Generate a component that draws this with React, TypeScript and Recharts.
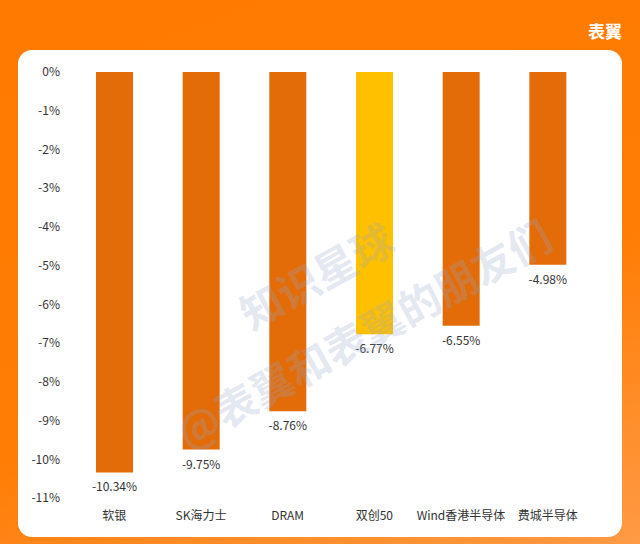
import { BarChart, Bar, XAxis, YAxis, Cell, LabelList } from 'recharts';

const categories = ['软银', 'SK海力士', 'DRAM', '双创50', 'Wind香港半导体', '费城半导体'];
const changes = [-10.34, -9.75, -8.76, -6.77, -6.55, -4.98];
const highlight = ['双创50'];
const yTicks = [0, -1, -2, -3, -4, -5, -6, -7, -8, -9, -10, -11];

const data = categories.map((name, i) => ({ name, value: changes[i] }));

const FONT = '"Noto Sans CJK SC", "Noto Sans", sans-serif';

function BelowLabel(props: any) {
  const { x, y, width, height, value } = props;
  const bottom = Math.max(y, y + height);
  return (
    <text
      x={x + width / 2}
      y={bottom + 19}
      textAnchor="middle"
      fontSize={12}
      fill="#333"
      fontFamily={FONT}
    >
      {`${value.toFixed(2)}%`}
    </text>
  );
}

export default function App() {
  return (
    <div
      style={{
        position: 'absolute',
        left: 0,
        top: 0,
        width: 640,
        height: 544,
        overflow: 'hidden',
        fontFamily: FONT,
        background: 'linear-gradient(160deg, #ff7a00 0%, #ff7d05 60%, #ff9a45 100%)',
      }}
    >
      <div
        style={{
          position: 'absolute',
          right: 18,
          top: 18,
          color: '#fff',
          fontWeight: 700,
          fontSize: 17,
        }}
      >
        表翼
      </div>
      <div
        style={{
          position: 'absolute',
          left: 18,
          top: 50,
          width: 604,
          height: 487,
          background: '#fff',
          borderRadius: 14,
        }}
      />
      <div style={{ position: 'absolute', left: 0, top: 0 }}>
        <BarChart
          width={640}
          height={544}
          data={data}
          margin={{ top: 72, right: 49, bottom: 16, left: 11 }}
          barCategoryGap={0}
        >
          <XAxis
            dataKey="name"
            axisLine={false}
            tickLine={false}
            tickMargin={7}
            interval={0}
            tick={{ fontSize: 12, fill: '#333', fontFamily: FONT }}
          />
          <YAxis
            type="number"
            domain={[-11, 0]}
            ticks={yTicks}
            width={60}
            axisLine={false}
            tickLine={false}
            tickMargin={5}
            tickFormatter={(v) => `${v}%`}
            tick={{ fontSize: 12, fill: '#333', fontFamily: FONT }}
          />
          <Bar dataKey="value" barSize={37} isAnimationActive={false}>
            {data.map((d) => (
              <Cell key={d.name} fill={highlight.includes(d.name) ? '#ffc000' : '#e36c09'} />
            ))}
            <LabelList dataKey="value" content={<BelowLabel />} />
          </Bar>
        </BarChart>
      </div>
      <svg
        width={640}
        height={544}
        style={{ position: 'absolute', left: 0, top: 0, pointerEvents: 'none' }}
      >
        <g fill="rgba(150,165,200,0.26)" fontWeight={700} fontFamily={FONT} textAnchor="middle">
          <text x={318} y={292} fontSize={42} transform="rotate(-29 318 278)">
            知识星球
          </text>
          <text x={365} y={350} fontSize={42} transform="rotate(-29 365 336)">
            @表翼和表翼的朋友们
          </text>
        </g>
      </svg>
    </div>
  );
}
